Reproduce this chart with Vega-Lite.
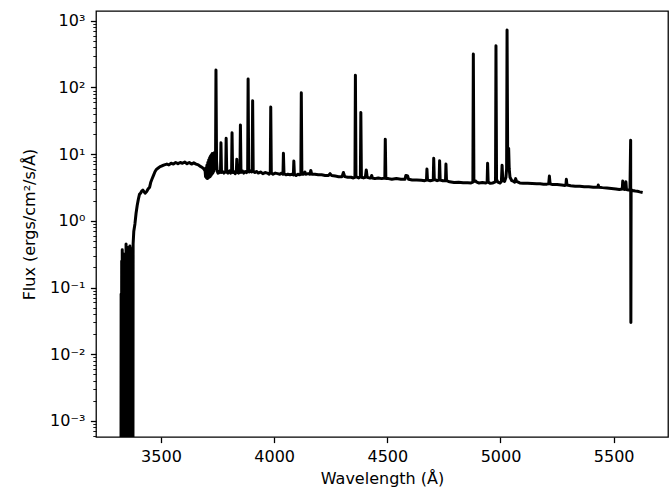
{
  "$schema": "https://vega.github.io/schema/vega-lite/v6.json",
  "width": 572,
  "height": 426,
  "autosize": {"type": "none"},
  "padding": {"left": 96, "top": 11, "right": 1, "bottom": 55},
  "background": "white",
  "config": {
    "font": "DejaVu Sans",
    "view": {"stroke": "black", "strokeWidth": 1.28},
    "axis": {
      "domain": false,
      "grid": false,
      "tickColor": "black",
      "tickWidth": 1.28,
      "labelColor": "black",
      "titleColor": "black",
      "labelFont": "DejaVu Sans",
      "titleFont": "DejaVu Sans",
      "labelFontSize": 16,
      "titleFontSize": 16,
      "titleFontWeight": "normal"
    }
  },
  "data": {
    "values": [
      {"w": 3323, "f": 0.000001}, {"w": 3324, "f": 0.08}, {"w": 3325.3, "f": 0.000001}, {"w": 3326.5, "f": 0.25},
      {"w": 3327.8, "f": 0.000001}, {"w": 3329, "f": 0.37}, {"w": 3330.2, "f": 0.000001}, {"w": 3331.4, "f": 0.2},
      {"w": 3332.6, "f": 0.000001}, {"w": 3333.8, "f": 0.32}, {"w": 3335, "f": 0.000001}, {"w": 3336.2, "f": 0.15},
      {"w": 3337.4, "f": 0.000001}, {"w": 3338.6, "f": 0.28}, {"w": 3339.8, "f": 0.000001}, {"w": 3341, "f": 0.12},
      {"w": 3342.2, "f": 0.000001}, {"w": 3343.4, "f": 0.22}, {"w": 3344.6, "f": 0.000001}, {"w": 3345.8, "f": 0.45},
      {"w": 3347, "f": 0.000001}, {"w": 3348.2, "f": 0.3}, {"w": 3349.4, "f": 0.000001}, {"w": 3350.6, "f": 0.18},
      {"w": 3351.8, "f": 0.000001}, {"w": 3353, "f": 0.4}, {"w": 3354.2, "f": 0.000001}, {"w": 3355.4, "f": 0.25},
      {"w": 3356.6, "f": 0.000001}, {"w": 3357.8, "f": 0.33}, {"w": 3359, "f": 0.000001}, {"w": 3360.2, "f": 0.2},
      {"w": 3361.4, "f": 0.000001}, {"w": 3362.6, "f": 0.42}, {"w": 3363.8, "f": 0.000001}, {"w": 3365, "f": 0.3},
      {"w": 3366.2, "f": 0.000001}, {"w": 3367.4, "f": 0.25}, {"w": 3368.6, "f": 0.000001}, {"w": 3369.8, "f": 0.38},
      {"w": 3371, "f": 0.000001}, {"w": 3372.2, "f": 0.2}, {"w": 3373.4, "f": 0.000001}, {"w": 3374.6, "f": 0.3},
      {"w": 3375.8, "f": 0.000001}, {"w": 3377, "f": 0.45},
      {"w": 3380, "f": 0.7}, {"w": 3385, "f": 0.9}, {"w": 3390, "f": 1.3}, {"w": 3395, "f": 1.7}, {"w": 3400, "f": 2.1},
      {"w": 3405, "f": 2.5}, {"w": 3410, "f": 2.6}, {"w": 3415, "f": 2.8}, {"w": 3420, "f": 2.9}, {"w": 3425, "f": 2.75},
      {"w": 3430, "f": 2.6}, {"w": 3437, "f": 2.75}, {"w": 3443, "f": 3.0}, {"w": 3450, "f": 3.2}, {"w": 3455, "f": 3.8},
      {"w": 3460, "f": 4.2}, {"w": 3467, "f": 4.8}, {"w": 3474, "f": 5.5}, {"w": 3480, "f": 5.9}, {"w": 3488, "f": 6.2},
      {"w": 3496, "f": 6.5}, {"w": 3505, "f": 6.7}, {"w": 3515, "f": 6.9}, {"w": 3526, "f": 7.1}, {"w": 3535, "f": 6.9},
      {"w": 3545, "f": 7.3}, {"w": 3555, "f": 7.1}, {"w": 3565, "f": 7.5}, {"w": 3575, "f": 7.2}, {"w": 3585, "f": 7.5},
      {"w": 3595, "f": 7.3}, {"w": 3605, "f": 7.6}, {"w": 3615, "f": 7.2}, {"w": 3625, "f": 7.5}, {"w": 3635, "f": 7.1},
      {"w": 3645, "f": 7.4}, {"w": 3655, "f": 7.1}, {"w": 3665, "f": 6.9}, {"w": 3672, "f": 6.6}, {"w": 3680, "f": 6.4},
      {"w": 3688, "f": 6.1}, {"w": 3695, "f": 5.6}, {"w": 3697, "f": 4.6}, {"w": 3699, "f": 6.2}, {"w": 3701, "f": 4.4},
      {"w": 3703, "f": 6.8}, {"w": 3705, "f": 4.3}, {"w": 3707, "f": 7.5}, {"w": 3709, "f": 4.4}, {"w": 3711, "f": 8.2},
      {"w": 3713, "f": 4.5}, {"w": 3715, "f": 8.8}, {"w": 3717, "f": 4.6}, {"w": 3719, "f": 9.4}, {"w": 3721, "f": 4.8},
      {"w": 3723, "f": 9.8}, {"w": 3725, "f": 5.0}, {"w": 3727, "f": 10.2}, {"w": 3729, "f": 5.2}, {"w": 3731, "f": 9.6},
      {"w": 3733, "f": 5.5}, {"w": 3735, "f": 10.5}, {"w": 3737, "f": 6.0}, {"w": 3739, "f": 9.0}, {"w": 3741, "f": 6.5},
      {"w": 3743, "f": 182}, {"w": 3745.5, "f": 8.0}, {"w": 3748, "f": 5.6}, {"w": 3752, "f": 5.2}, {"w": 3756, "f": 5.5},
      {"w": 3760, "f": 5.3}, {"w": 3763, "f": 5.4}, {"w": 3765, "f": 14.8}, {"w": 3767.5, "f": 5.3}, {"w": 3772, "f": 5.5},
      {"w": 3778, "f": 5.2}, {"w": 3786, "f": 5.5}, {"w": 3788, "f": 17.3}, {"w": 3790.5, "f": 5.4}, {"w": 3796, "f": 5.2},
      {"w": 3803, "f": 5.6}, {"w": 3808, "f": 5.2}, {"w": 3812, "f": 5.5}, {"w": 3814, "f": 20.9}, {"w": 3816.5, "f": 5.3},
      {"w": 3822, "f": 5.5}, {"w": 3828, "f": 5.1}, {"w": 3833, "f": 5.6}, {"w": 3835, "f": 8.4}, {"w": 3837.5, "f": 5.4},
      {"w": 3843, "f": 5.2}, {"w": 3849, "f": 5.6}, {"w": 3851, "f": 27.3}, {"w": 3853.5, "f": 5.3}, {"w": 3860, "f": 5.6},
      {"w": 3866, "f": 5.2}, {"w": 3872, "f": 5.5}, {"w": 3878, "f": 5.3}, {"w": 3883, "f": 5.6}, {"w": 3885, "f": 134},
      {"w": 3887.5, "f": 5.8}, {"w": 3890, "f": 5.4}, {"w": 3895, "f": 5.6}, {"w": 3900, "f": 5.4}, {"w": 3903, "f": 5.8},
      {"w": 3905, "f": 63}, {"w": 3907.5, "f": 5.5}, {"w": 3915, "f": 5.3}, {"w": 3922, "f": 5.5}, {"w": 3930, "f": 5.2},
      {"w": 3940, "f": 5.4}, {"w": 3950, "f": 5.1}, {"w": 3960, "f": 5.3}, {"w": 3970, "f": 5.2}, {"w": 3978, "f": 5.0},
      {"w": 3983, "f": 5.3}, {"w": 3985, "f": 51}, {"w": 3987.5, "f": 5.2}, {"w": 3995, "f": 5.0}, {"w": 4005, "f": 5.2},
      {"w": 4015, "f": 5.1}, {"w": 4025, "f": 5.0}, {"w": 4033, "f": 5.2}, {"w": 4039, "f": 5.0}, {"w": 4041, "f": 10.3},
      {"w": 4043.5, "f": 5.1}, {"w": 4052, "f": 4.9}, {"w": 4060, "f": 5.0}, {"w": 4070, "f": 4.9}, {"w": 4080, "f": 5.0},
      {"w": 4085, "f": 4.9}, {"w": 4087, "f": 7.9}, {"w": 4089.5, "f": 5.0}, {"w": 4097, "f": 4.8}, {"w": 4105, "f": 5.0},
      {"w": 4112, "f": 4.9}, {"w": 4118, "f": 5.0}, {"w": 4120, "f": 83}, {"w": 4122.5, "f": 5.0}, {"w": 4130, "f": 5.0},
      {"w": 4136, "f": 5.4}, {"w": 4140, "f": 5.0}, {"w": 4150, "f": 5.1}, {"w": 4158, "f": 5.0}, {"w": 4162, "f": 5.7},
      {"w": 4166, "f": 5.0}, {"w": 4180, "f": 5.0}, {"w": 4195, "f": 4.9}, {"w": 4210, "f": 4.9}, {"w": 4225, "f": 4.8},
      {"w": 4240, "f": 4.8}, {"w": 4247, "f": 5.1}, {"w": 4254, "f": 4.8}, {"w": 4270, "f": 4.7}, {"w": 4285, "f": 4.6},
      {"w": 4300, "f": 4.6}, {"w": 4306, "f": 5.3}, {"w": 4312, "f": 4.6}, {"w": 4325, "f": 4.5}, {"w": 4340, "f": 4.5},
      {"w": 4350, "f": 4.4}, {"w": 4357, "f": 4.5}, {"w": 4359, "f": 153}, {"w": 4361.5, "f": 4.6}, {"w": 4368, "f": 4.5},
      {"w": 4374, "f": 4.4}, {"w": 4381, "f": 4.6}, {"w": 4383, "f": 42}, {"w": 4385.5, "f": 4.5}, {"w": 4395, "f": 4.4},
      {"w": 4403, "f": 4.5}, {"w": 4407, "f": 5.8}, {"w": 4411, "f": 4.5}, {"w": 4420, "f": 4.4}, {"w": 4428, "f": 4.4},
      {"w": 4431, "f": 4.8}, {"w": 4434, "f": 4.4}, {"w": 4445, "f": 4.3}, {"w": 4460, "f": 4.4}, {"w": 4475, "f": 4.3},
      {"w": 4489, "f": 4.4}, {"w": 4491, "f": 16.8}, {"w": 4493.5, "f": 4.3}, {"w": 4505, "f": 4.3}, {"w": 4520, "f": 4.2},
      {"w": 4540, "f": 4.3}, {"w": 4560, "f": 4.2}, {"w": 4578, "f": 4.2}, {"w": 4582, "f": 4.8}, {"w": 4590, "f": 4.7},
      {"w": 4594, "f": 4.2}, {"w": 4610, "f": 4.1}, {"w": 4630, "f": 4.1}, {"w": 4650, "f": 4.05}, {"w": 4665, "f": 4.0},
      {"w": 4673, "f": 4.1}, {"w": 4675, "f": 6.0}, {"w": 4677.5, "f": 4.1}, {"w": 4690, "f": 4.0}, {"w": 4703, "f": 4.1},
      {"w": 4705, "f": 8.65}, {"w": 4707.5, "f": 4.2}, {"w": 4720, "f": 4.0}, {"w": 4729, "f": 4.1}, {"w": 4731, "f": 7.96},
      {"w": 4733.5, "f": 4.1}, {"w": 4745, "f": 4.0}, {"w": 4757, "f": 4.0}, {"w": 4759, "f": 7.1}, {"w": 4761.5, "f": 4.0},
      {"w": 4775, "f": 3.85}, {"w": 4795, "f": 3.75}, {"w": 4815, "f": 3.8}, {"w": 4835, "f": 3.72}, {"w": 4855, "f": 3.72},
      {"w": 4870, "f": 3.7}, {"w": 4878, "f": 3.8}, {"w": 4880, "f": 317}, {"w": 4882.5, "f": 3.9}, {"w": 4888, "f": 4.0},
      {"w": 4895, "f": 3.8}, {"w": 4905, "f": 3.7}, {"w": 4920, "f": 3.75}, {"w": 4935, "f": 3.7}, {"w": 4941, "f": 3.8},
      {"w": 4943, "f": 7.28}, {"w": 4945.5, "f": 3.8}, {"w": 4955, "f": 3.65}, {"w": 4965, "f": 3.7}, {"w": 4975, "f": 3.8},
      {"w": 4978, "f": 4.0}, {"w": 4980, "f": 422}, {"w": 4982.5, "f": 4.2}, {"w": 4988, "f": 3.8}, {"w": 4998, "f": 3.7},
      {"w": 5004, "f": 3.9}, {"w": 5007, "f": 6.8}, {"w": 5010, "f": 4.2}, {"w": 5018, "f": 3.9}, {"w": 5024, "f": 4.5},
      {"w": 5027, "f": 6.0}, {"w": 5029, "f": 726}, {"w": 5031.5, "f": 12}, {"w": 5034, "f": 12.2}, {"w": 5036, "f": 12.2},
      {"w": 5038.5, "f": 6.0}, {"w": 5042, "f": 4.5}, {"w": 5050, "f": 4.0}, {"w": 5058, "f": 3.9}, {"w": 5063, "f": 3.8},
      {"w": 5067, "f": 4.3}, {"w": 5071, "f": 3.9}, {"w": 5085, "f": 3.7}, {"w": 5100, "f": 3.65}, {"w": 5120, "f": 3.65},
      {"w": 5140, "f": 3.62}, {"w": 5160, "f": 3.6}, {"w": 5175, "f": 3.6}, {"w": 5190, "f": 3.55}, {"w": 5205, "f": 3.55},
      {"w": 5213, "f": 3.6}, {"w": 5216, "f": 4.7}, {"w": 5219, "f": 3.6}, {"w": 5230, "f": 3.5}, {"w": 5250, "f": 3.5},
      {"w": 5270, "f": 3.45}, {"w": 5285, "f": 3.4}, {"w": 5289, "f": 3.45}, {"w": 5291, "f": 4.2}, {"w": 5293.5, "f": 3.45},
      {"w": 5310, "f": 3.35}, {"w": 5330, "f": 3.3}, {"w": 5350, "f": 3.3}, {"w": 5370, "f": 3.25}, {"w": 5390, "f": 3.25},
      {"w": 5410, "f": 3.2}, {"w": 5425, "f": 3.2}, {"w": 5430, "f": 3.2}, {"w": 5432, "f": 3.45}, {"w": 5434, "f": 3.2},
      {"w": 5450, "f": 3.15}, {"w": 5470, "f": 3.1}, {"w": 5490, "f": 3.05}, {"w": 5510, "f": 3.0}, {"w": 5525, "f": 2.95},
      {"w": 5538, "f": 3.0}, {"w": 5540, "f": 3.95}, {"w": 5542.5, "f": 3.0}, {"w": 5550, "f": 2.95}, {"w": 5552, "f": 3.0},
      {"w": 5554, "f": 3.85}, {"w": 5556.5, "f": 2.95}, {"w": 5565, "f": 2.9}, {"w": 5572, "f": 2.9}, {"w": 5575, "f": 16.2},
      {"w": 5576, "f": 0.03}, {"w": 5577, "f": 2.9}, {"w": 5585, "f": 2.85}, {"w": 5595, "f": 2.8}, {"w": 5605, "f": 2.78},
      {"w": 5615, "f": 2.72}, {"w": 5628, "f": 2.66}
    ]
  },
  "mark": {"type": "line", "color": "black", "strokeWidth": 3, "strokeJoin": "round", "strokeCap": "butt", "clip": true},
  "encoding": {
    "x": {
      "field": "w",
      "type": "quantitative",
      "scale": {"domain": [3213, 5740], "nice": false, "zero": false},
      "axis": {
        "title": "Wavelength (Å)",
        "values": [3500, 4000, 4500, 5000, 5500],
        "format": "d",
        "tickSize": 5.6,
        "labelPadding": 5.6,
        "titlePadding": 6,
        "labelFlush": false,
        "labelOverlap": false
      }
    },
    "y": {
      "field": "f",
      "type": "quantitative",
      "scale": {"type": "log", "domain": [0.000575, 1400], "nice": false},
      "axis": {
        "title": "Flux (ergs/cm²/s/Å)",
        "values": [0.0006, 0.0007, 0.0008, 0.0009, 0.001, 0.002, 0.003, 0.004, 0.005, 0.006, 0.007, 0.008, 0.009,
                   0.01, 0.02, 0.03, 0.04, 0.05, 0.06, 0.07, 0.08, 0.09, 0.1, 0.2, 0.3, 0.4, 0.5, 0.6, 0.7, 0.8, 0.9,
                   1, 2, 3, 4, 5, 6, 7, 8, 9, 10, 20, 30, 40, 50, 60, 70, 80, 90, 100, 200, 300, 400, 500, 600, 700, 800, 900, 1000],
        "labelExpr": "abs(log(datum.value)/LN10 - round(log(datum.value)/LN10)) < 0.001 ? '10' + replace(replace(replace(replace(replace('' + round(log(datum.value)/LN10), '-', '⁻'), '0', '⁰'), '1', '¹'), '2', '²'), '3', '³') : ''",
        "tickSize": {"condition": {"test": "abs(log(datum.value)/LN10 - round(log(datum.value)/LN10)) < 0.001", "value": 5.6}, "value": 3.2},
        "tickWidth": {"condition": {"test": "abs(log(datum.value)/LN10 - round(log(datum.value)/LN10)) < 0.001", "value": 1.28}, "value": 0.9},
        "labelPadding": 5.6,
        "titlePadding": 12,
        "labelFlush": false,
        "labelOverlap": false
      }
    }
  }
}
